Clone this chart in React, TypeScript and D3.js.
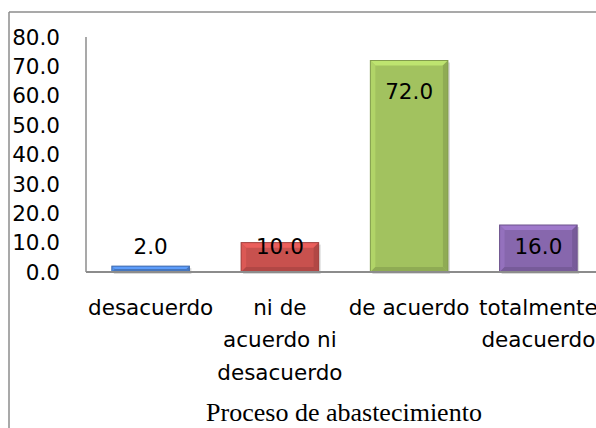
import { useMemo } from "react";
import * as d3 from "d3";

const CATEGORIES = [
  ["desacuerdo"],
  ["ni de", "acuerdo ni", "desacuerdo"],
  ["de acuerdo"],
  ["totalmente", "deacuerdo"],
];
const VALUES = [2.0, 10.0, 72.0, 16.0];
const BAR_COLORS = ["#4f86d6", "#c8514e", "#a2c25f", "#8767ad"];
const Y_TICKS = [0, 10, 20, 30, 40, 50, 60, 70, 80];
const TITLE = "Proceso de abastecimiento";

const W = 596;
const H = 428;
const FONT = "'DejaVu Sans', sans-serif";
const FS = 21.5;
const PLOT = { left: 86, right: 603, top: 37, bottom: 272 };

export default function App() {
  const x = useMemo(
    () =>
      d3
        .scaleBand<number>()
        .domain(VALUES.map((_, i) => i))
        .range([PLOT.left, PLOT.right])
        .paddingInner(0.4)
        .paddingOuter(0.2),
    []
  );
  const y = useMemo(
    () => d3.scaleLinear().domain([0, 80]).range([PLOT.bottom, PLOT.top]),
    []
  );

  return (
    <svg
      width={W}
      height={H}
      style={{ position: "absolute", left: 0, top: 0, background: "#fff" }}
    >
      {/* outer frame */}
      <line x1={9} y1={12} x2={W} y2={12} stroke="#8c8c8c" strokeWidth={1.5} />
      <line x1={9} y1={12} x2={9} y2={H} stroke="#8c8c8c" strokeWidth={1.5} />

      {/* y axis */}
      <line
        x1={PLOT.left}
        x2={PLOT.left}
        y1={y(80)}
        y2={y(0)}
        stroke="#8c8c8c"
        strokeWidth={1.5}
      />
      {Y_TICKS.map((t) => (
        <text
          key={t}
          x={60}
          y={y(t)}
          dy="0.36em"
          textAnchor="end"
          fontFamily={FONT}
          fontSize={FS}
          fill="#000"
        >
          {t.toFixed(1)}
        </text>
      ))}

      {/* bars */}
      {VALUES.map((v, i) => {
        const bx = x(i)!;
        const bw = x.bandwidth();
        const by = y(v);
        const bh = y(0) - by;
        const color = BAR_COLORS[i];
        const c = d3.color(color)!;
        const light = c.brighter(0.45).formatHex();
        const lighter = c.brighter(0.25).formatHex();
        const dark = c.darker(0.6).formatHex();
        const darker = c.darker(0.35).formatHex();
        const b = Math.min(5, bh / 2);
        return (
          <g key={i}>
            <rect x={bx + 2} y={by + 2} width={bw} height={bh} fill="#000" opacity={0.15} />
            <rect x={bx} y={by} width={bw} height={bh} fill={color} />
            <polygon
              points={`${bx},${by} ${bx + bw},${by} ${bx + bw - b},${by + b} ${bx + b},${by + b}`}
              fill={light}
            />
            <polygon
              points={`${bx},${by} ${bx + b},${by + b} ${bx + b},${by + bh - b} ${bx},${by + bh}`}
              fill={lighter}
            />
            <polygon
              points={`${bx + bw},${by} ${bx + bw},${by + bh} ${bx + bw - b},${by + bh - b} ${bx + bw - b},${by + b}`}
              fill={darker}
            />
            <polygon
              points={`${bx},${by + bh} ${bx + bw},${by + bh} ${bx + bw - b},${by + bh - b} ${bx + b},${by + bh - b}`}
              fill={darker}
            />
            <rect
              x={bx}
              y={by}
              width={bw}
              height={bh}
              fill="none"
              stroke={dark}
              strokeWidth={1}
            />
          </g>
        );
      })}

      {/* x baseline */}
      <line
        x1={PLOT.left}
        x2={W}
        y1={y(0)}
        y2={y(0)}
        stroke="#8c8c8c"
        strokeWidth={2}
      />

      {/* value labels */}
      {VALUES.map((v, i) => (
        <text
          key={i}
          x={x(i)! + x.bandwidth() / 2}
          y={Math.min(y(v) + 31, y(0) - 26)}
          dy="0.36em"
          textAnchor="middle"
          fontFamily={FONT}
          fontSize={FS}
          fill="#000"
        >
          {v.toFixed(1)}
        </text>
      ))}

      {/* category labels */}
      {CATEGORIES.map((lines, i) => (
        <text
          key={i}
          textAnchor="middle"
          fontFamily={FONT}
          fontSize={FS}
          fill="#000"
        >
          {lines.map((l, j) => (
            <tspan
              key={j}
              x={x(i)! + x.bandwidth() / 2}
              y={307 + j * 32.5}
              dy="0.36em"
            >
              {l}
            </tspan>
          ))}
        </text>
      ))}

      {/* title */}
      <text
        x={344}
        y={412}
        dy="0.35em"
        textAnchor="middle"
        fontFamily="'Liberation Serif', 'Times New Roman', serif"
        fontSize={26}
        fill="#000"
      >
        {TITLE}
      </text>
    </svg>
  );
}
